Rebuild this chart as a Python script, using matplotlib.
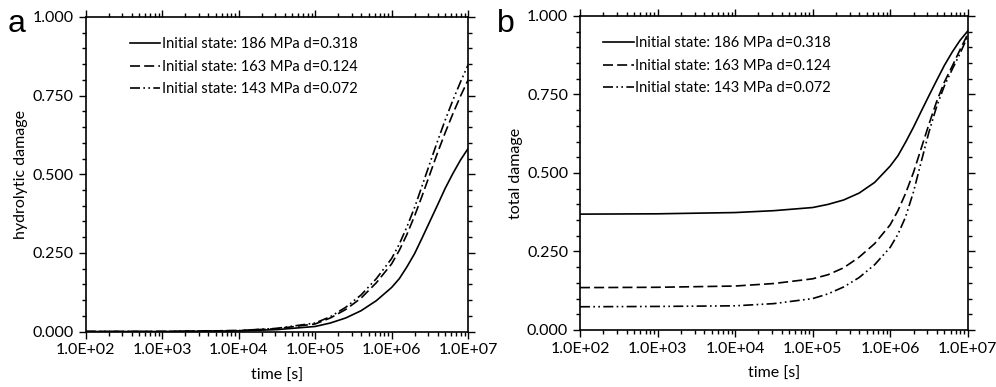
import math
import matplotlib
matplotlib.use("Agg")
import matplotlib.pyplot as plt
from matplotlib.ticker import FixedLocator, LogLocator, FuncFormatter, NullFormatter

plt.rcParams['font.family'] = ['Lato', 'DejaVu Sans']

# time points [s]
time_s = [1e2, 1e3, 1e4, 3.16e4, 1e5, 1.58e5, 2.51e5, 3.98e5, 6.31e5, 1e6, 1.26e6,
          1.58e6, 2e6, 2.51e6, 3.16e6, 3.98e6, 5.01e6, 6.31e6, 7.94e6, 1e7]

labels = ["Initial state: 186 MPa d=0.318",
          "Initial state: 163 MPa d=0.124",
          "Initial state: 143 MPa d=0.072"]

# panel a: hydrolytic damage
hydro_186 = [0.0, 0.0, 0.002, 0.006, 0.016, 0.027, 0.043, 0.066, 0.098, 0.140, 0.168,
             0.205, 0.248, 0.298, 0.350, 0.402, 0.455, 0.502, 0.545, 0.582]
hydro_163 = [0.0, 0.0, 0.003, 0.009, 0.024, 0.043, 0.070, 0.106, 0.155, 0.215, 0.258,
             0.308, 0.368, 0.432, 0.500, 0.568, 0.632, 0.692, 0.748, 0.800]
hydro_143 = [0.0, 0.0, 0.003, 0.010, 0.027, 0.047, 0.077, 0.116, 0.168, 0.232, 0.278,
             0.332, 0.395, 0.464, 0.535, 0.605, 0.672, 0.735, 0.793, 0.848]

# panel b: total damage
total_186 = [0.369, 0.370, 0.374, 0.380, 0.390, 0.400, 0.414, 0.436, 0.470, 0.522, 0.555,
             0.598, 0.646, 0.696, 0.746, 0.795, 0.843, 0.885, 0.922, 0.952]
total_163 = [0.135, 0.136, 0.140, 0.148, 0.163, 0.176, 0.198, 0.232, 0.275, 0.335, 0.380,
             0.435, 0.502, 0.578, 0.655, 0.728, 0.790, 0.840, 0.892, 0.942]
total_143 = [0.074, 0.075, 0.077, 0.084, 0.100, 0.115, 0.137, 0.167, 0.208, 0.263, 0.305,
             0.360, 0.440, 0.535, 0.630, 0.712, 0.778, 0.830, 0.880, 0.935]

styles = [dict(linestyle='-'),
          dict(linestyle=(0, (6, 2.5))),
          dict(linestyle=(0, (6, 2, 1, 2, 1, 2)))]


def sci_fmt(v, pos):
    return "1.0E+%02d" % round(math.log10(v))


def style_axis(ax, ylabel):
    ax.set_xscale('log')
    ax.set_xlim(1e2, 1e7)
    ax.set_ylim(0, 1)
    ax.xaxis.set_major_locator(FixedLocator([1e2, 1e3, 1e4, 1e5, 1e6, 1e7]))
    ax.xaxis.set_major_formatter(FuncFormatter(sci_fmt))
    ax.xaxis.set_minor_locator(LogLocator(base=10, subs=range(2, 10)))
    ax.xaxis.set_minor_formatter(NullFormatter())
    ax.yaxis.set_major_locator(FixedLocator([0, 0.25, 0.5, 0.75, 1.0]))
    ax.yaxis.set_major_formatter(FuncFormatter(lambda v, p: "%.3f" % v))
    ax.yaxis.set_minor_locator(FixedLocator([i * 0.05 for i in range(21)]))
    ax.tick_params(which='both', direction='out', top=True, right=True,
                   labeltop=False, labelright=False, width=1, labelsize=11.5)
    ax.tick_params(which='major', length=5)
    ax.tick_params(which='minor', length=3)
    for s in ax.spines.values():
        s.set_linewidth(1.2)
    ax.set_xlabel("time [s]", fontsize=11.5, labelpad=8)
    ax.set_ylabel(ylabel, fontsize=11.5, labelpad=3)


fig = plt.figure(figsize=(9.96, 3.87), dpi=100)
ax1 = fig.add_axes([0.086, 0.1434, 0.384, 0.8127])
ax2 = fig.add_axes([0.5823, 0.1473, 0.3893, 0.8114])

for ax, series, ylab in [(ax1, [hydro_186, hydro_163, hydro_143], "hydrolytic damage"),
                         (ax2, [total_186, total_163, total_143], "total damage")]:
    for vals, st, lab in zip(series, styles, labels):
        ax.plot(time_s, vals, color='black', linewidth=1.2, label=lab, **st)
    style_axis(ax, ylab)

ax1.legend(loc='upper left', bbox_to_anchor=(0.10, 0.955), frameon=False, fontsize=10.5,
           handlelength=2.1, handletextpad=0.1, labelspacing=0.6, borderaxespad=0)
ax2.legend(loc='upper left', bbox_to_anchor=(0.045, 0.955), frameon=False, fontsize=10.5,
           handlelength=2.1, handletextpad=0.1, labelspacing=0.6, borderaxespad=0)

fig.text(0.008, 0.917, "a", fontsize=23, family='Liberation Sans', va='baseline')
fig.text(0.499, 0.917, "b", fontsize=23, family='Liberation Sans', va='baseline')

fig.savefig("out.png", dpi=100)
